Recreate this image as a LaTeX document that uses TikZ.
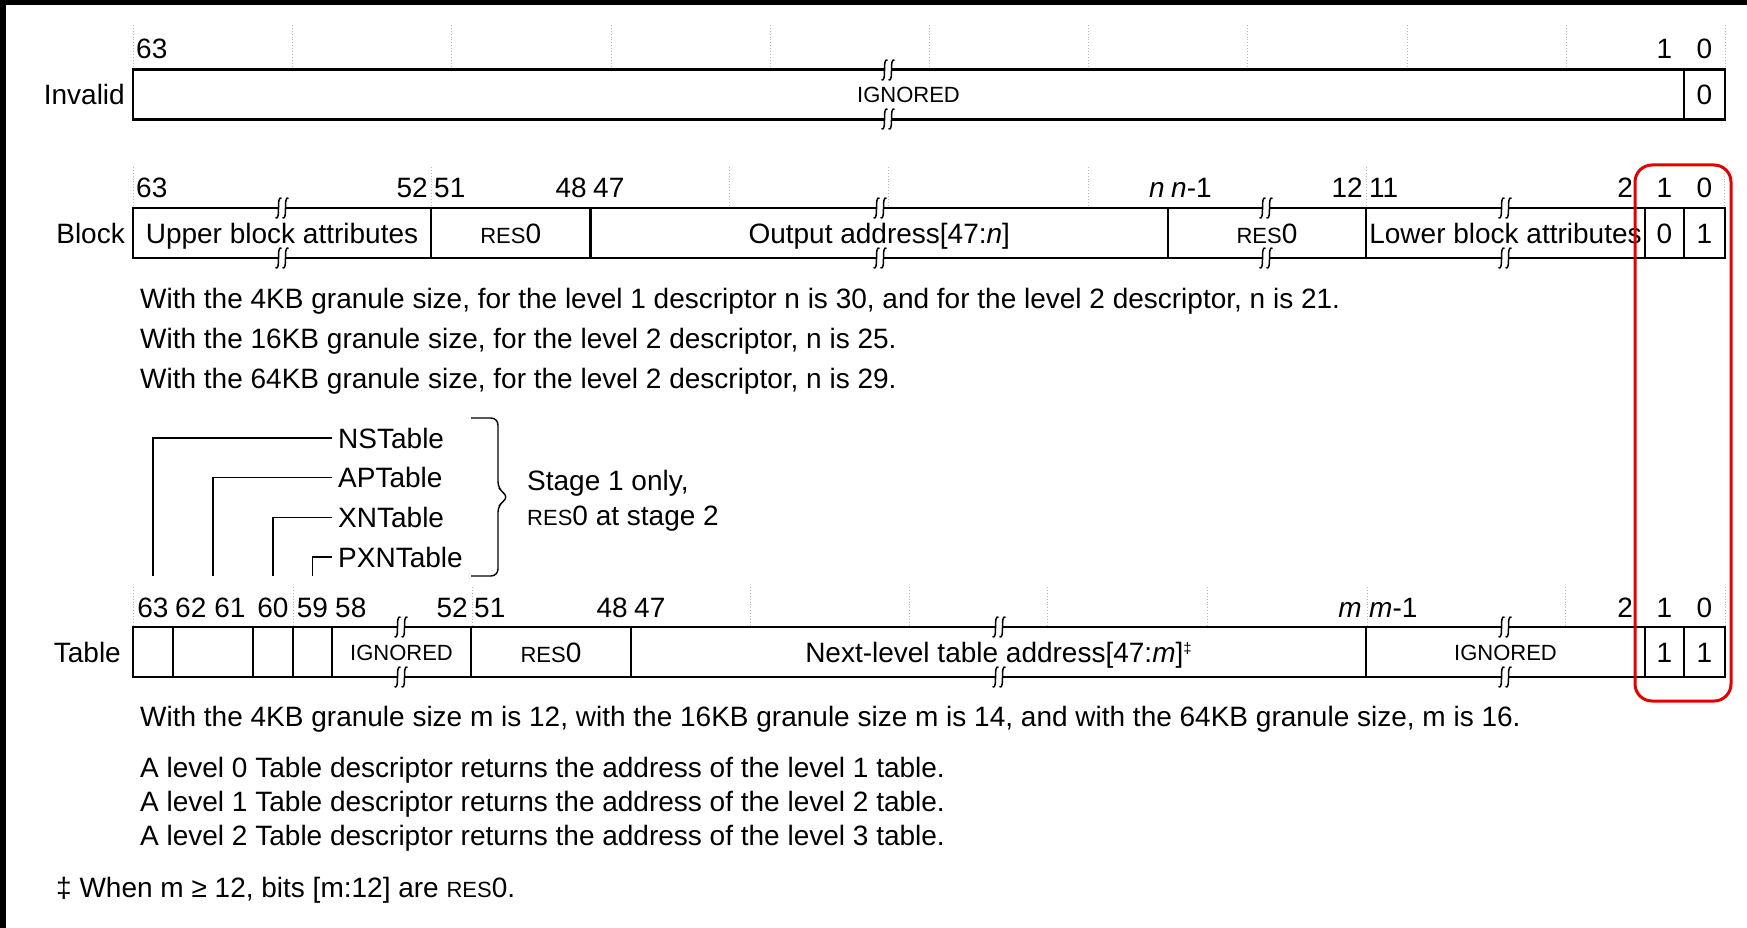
\documentclass[tikz,border=0pt]{standalone}
\usepackage{fontspec}
\setmainfont{Liberation Sans}
\usetikzlibrary{positioning}
\definecolor{markred}{RGB}{228,0,0}
\newcommand{\regsc}[1]{{\fontsize{22}{26}\selectfont #1}}
\newcommand{\reszero}{\regsc{RES}0}

\begin{document}
\begin{tikzpicture}[x=1pt, y=-1pt, font=\fontsize{28}{34}\selectfont,
  fld/.style={draw, line width=2.3pt, inner sep=0pt, outer sep=0pt, minimum height=50pt, text height=20pt, text depth=0pt},
  ign/.style={fld, text height=16pt},
  bitno/.style={inner sep=0pt},
  rowname/.style={inner sep=0pt, text height=20pt, text depth=0pt},
  flag/.style={inner sep=0pt, text height=20pt, text depth=0pt, anchor=west},
  note/.style={inner sep=0pt, text height=20pt, text depth=6pt},
  leader/.style={line width=1.4pt, shorten <=6pt},
  guide/.style={gray!55, dotted, line width=0.9pt},
  brk/.style={line width=1.5pt}]
\useasboundingbox (0,0) rectangle (1747,928);
\fill[white] (0,0) rectangle (1747,928);

\foreach \gx in {133,292,451,611,770,929,1088,1247,1407,1566,1725}
  \draw[guide] (\gx,25) -- (\gx,67);
\foreach \gx in {133,431,729,888,1088,1366,1724}
  \draw[guide] (\gx,167) -- (\gx,206);
\foreach \gx in {133,293,472,750,909,1047,1207,1367,1565,1725}
  \draw[guide] (\gx,587) -- (\gx,625);

\node[ign, anchor=west, minimum width=1551pt] (iign) at (133,94.5) {\regsc{IGNORED}};
\node[fld, right=0pt of iign, minimum width=41pt] (ibit0) {0};
\node[rowname, left=8pt of iign] (linv) {Invalid};

\node[bitno, anchor=base west] (i63) at (136,59) {63};
\node[bitno, anchor=base] (i1) at (1664.5,59) {1};
\node[bitno, anchor=base] (i0) at (1704.5,59) {0};

\node[fld, anchor=west, minimum width=298pt] (bupper) at (133,233) {Upper block attributes};
\node[fld, right=0pt of bupper, minimum width=159.5pt] (bres1) {\reszero};
\node[fld, right=0pt of bres1, minimum width=577.5pt] (boa) {Output address[47:\textit{n}]};
\node[fld, right=0pt of boa, minimum width=198pt] (bres2) {\reszero};
\node[fld, right=0pt of bres2, minimum width=279pt] (blower) {Lower block attributes};
\node[fld, right=0pt of blower, minimum width=39pt] (bbit1) {0};
\node[fld, right=0pt of bbit1, minimum width=41pt] (bbit0) {1};
\node[rowname, left=8pt of bupper] (lblk) {Block};

\node[bitno, anchor=base west] (b63) at (136,197) {63};
\node[bitno, anchor=base east] (b52) at (428,197) {52};
\node[bitno, anchor=base west] (b51) at (434,197) {51};
\node[bitno, anchor=base east] (b48) at (587,197) {48};
\node[bitno, anchor=base west] (b47) at (593,197) {47};
\node[bitno, anchor=base east] (bn) at (1165,197) {\textit{n}};
\node[bitno, anchor=base west] (bn1) at (1171,197) {\textit{n}-1};
\node[bitno, anchor=base east] (b12) at (1363,197) {12};
\node[bitno, anchor=base west] (b11) at (1369,197) {11};
\node[bitno, anchor=base east] (b2) at (1633,197) {2};
\node[bitno, anchor=base] (b1) at (1664.5,197) {1};
\node[bitno, anchor=base] (b0) at (1704.5,197) {0};

\node[note, anchor=base west] (gran1) at (140,308) {With the 4KB granule size, for the level 1 descriptor n is 30, and for the level 2 descriptor, n is 21.};
\node[note, below=40pt of gran1.west, anchor=west] (gran2) {With the 16KB granule size, for the level 2 descriptor, n is 25.};
\node[note, below=40pt of gran2.west, anchor=west] (gran3) {With the 64KB granule size, for the level 2 descriptor, n is 29.};

\node[flag] (nst) at (338,438) {NSTable};
\node[flag, below=39.7pt of nst.west, anchor=west] (apt) {APTable};
\node[flag, below=39.7pt of apt.west, anchor=west] (xnt) {XNTable};
\node[flag, below=39.7pt of xnt.west, anchor=west] (pxnt) {PXNTable};
\draw[line width=1.4pt, rounded corners=7pt] (471,418) -- (498,418) -- (498,489) -- (509,497) -- (498,505) -- (498,576) -- (471,576);
\node[note, anchor=base west] (stg1) at (527,490) {Stage 1 only,};
\node[note, below=35pt of stg1.west, anchor=west] (stg2) {\reszero{} at stage 2};

\node[fld, anchor=west, minimum width=40pt] (tns) at (133,652) {};
\node[fld, right=0pt of tns, minimum width=80pt] (tap) {};
\node[fld, right=0pt of tap, minimum width=40pt] (txn) {};
\node[fld, right=0pt of txn, minimum width=39pt] (tpxn) {};
\node[ign, right=0pt of tpxn, minimum width=139pt] (tign1) {\regsc{IGNORED}};
\node[fld, right=0pt of tign1, minimum width=160pt] (tres) {\reszero};
\node[fld, right=0pt of tres, minimum width=735pt] (tnla) {Next-level table address[47:\textit{m}]\raisebox{9pt}{\fontsize{15}{17}\selectfont ‡}};
\node[ign, right=0pt of tnla, minimum width=279pt] (tign2) {\regsc{IGNORED}};
\node[fld, right=0pt of tign2, minimum width=39pt] (tbit1) {1};
\node[fld, right=0pt of tbit1, minimum width=41pt] (tbit0) {1};
\node[rowname, left=12pt of tns] (ltab) {Table};

\node[bitno, anchor=base] (t63) at (153,617) {63};
\node[bitno, anchor=base west] (t62) at (175,617) {62};
\node[bitno, anchor=base] (t61) at (230,617) {61};
\node[bitno, anchor=base] (t60) at (273,617) {60};
\node[bitno, anchor=base] (t59) at (312.5,617) {59};
\node[bitno, anchor=base west] (t58) at (335,617) {58};
\node[bitno, anchor=base east] (t52) at (468,617) {52};
\node[bitno, anchor=base west] (t51) at (474,617) {51};
\node[bitno, anchor=base east] (t48) at (628,617) {48};
\node[bitno, anchor=base west] (t47) at (634,617) {47};
\node[bitno, anchor=base east] (tm) at (1362,617) {\textit{m}};
\node[bitno, anchor=base west] (tm1) at (1369,617) {\textit{m}-1};
\node[bitno, anchor=base east] (t2) at (1633,617) {2};
\node[bitno, anchor=base] (t1) at (1664.5,617) {1};
\node[bitno, anchor=base] (t0) at (1704.5,617) {0};

\coordinate (ldrend) at (0,576);
\draw[leader] (nst.west) -| (tns |- ldrend);
\draw[leader] (apt.west) -| (tap |- ldrend);
\draw[leader] (xnt.west) -| (txn |- ldrend);
\draw[leader] (pxnt.west) -| (tpxn |- ldrend);

\foreach \bx/\by in {888/70, 888/119, 282/208, 282/258, 880/208, 880/258, 1266/208, 1266/258, 1505/208, 1505/258, 401/627, 401/677, 999/627, 999/677, 1505/627, 1505/677} {
  \fill[white] ({\bx-3.5},{\by-2}) rectangle ({\bx+3.5},{\by+2});
  \draw[brk] ({\bx-0.5},{\by-10}) .. controls ({\bx-6.5},{\by-12}) and ({\bx-0.5},{\by+12}) .. ({\bx-6.5},{\by+10});
  \draw[brk] ({\bx+6.5},{\by-10}) .. controls ({\bx+0.5},{\by-12}) and ({\bx+6.5},{\by+12}) .. ({\bx+0.5},{\by+10});
}

\node[note, anchor=base west] (tgran) at (140,726) {With the 4KB granule size m is 12, with the 16KB granule size m is 14, and with the 64KB granule size, m is 16.};
\node[note, anchor=base west] (lvl0) at (140,777) {A level 0 Table descriptor returns the address of the level 1 table.};
\node[note, below=34pt of lvl0.west, anchor=west] (lvl1) {A level 1 Table descriptor returns the address of the level 2 table.};
\node[note, below=34pt of lvl1.west, anchor=west] (lvl2) {A level 2 Table descriptor returns the address of the level 3 table.};
\node[note, anchor=base west] (foot) at (56,897) {‡ When m ≥ 12, bits [m:12] are \reszero.};

\draw[markred, line width=3pt, rounded corners=17pt] (1635,165) rectangle (1731,701);
\fill[black] (0,0) rectangle (1747,5);
\fill[black] (0,0) rectangle (6,928);
\end{tikzpicture}
\end{document}
